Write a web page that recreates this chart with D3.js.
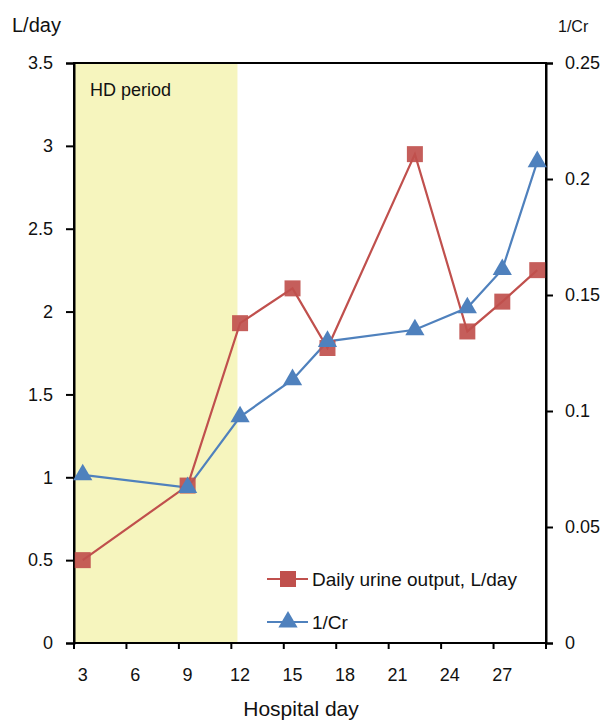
<!DOCTYPE html>
<html>
<head>
<meta charset="utf-8">
<script src="https://cdn.jsdelivr.net/npm/d3@7"></script>
<style>
  body { margin: 0; background: #fff; }
  text { font-family: "Liberation Sans", Arial, sans-serif; fill: #111; }
</style>
</head>
<body>
<svg width="605" height="725"></svg>
<script>
// data
var days = [3, 9, 12, 15, 17, 22, 25, 27, 29];
var urine = [0.50, 0.95, 1.93, 2.14, 1.78, 2.95, 1.88, 2.06, 2.25];
var invCr = [0.0725, 0.067, 0.0975, 0.1135, 0.130, 0.135, 0.1445, 0.161, 0.2075];
var xTickLabels = [3, 6, 9, 12, 15, 18, 21, 24, 27];
var leftTicks = [0, 0.5, 1, 1.5, 2, 2.5, 3, 3.5];
var rightTicks = [0, 0.05, 0.1, 0.15, 0.2, 0.25];
var hdPeriod = [2.5, 11.85];

var svg = d3.select("svg");
var margin = { top: 63, right: 59, bottom: 82, left: 74 };
var width = +svg.attr("width") - margin.left - margin.right;
var height = +svg.attr("height") - margin.top - margin.bottom;

var red = "#c0504d", blue = "#4f81bd";

var x = d3.scaleLinear().domain([2.5, 29.5]).range([0, width]);
var yL = d3.scaleLinear().domain([0, 3.5]).range([height, 0]);
var yR = d3.scaleLinear().domain([0, 0.25]).range([height, 0]);

var g = svg.append("g")
    .attr("transform", "translate(" + margin.left + "," + margin.top + ")");

// HD period band
g.append("rect")
    .attr("x", x(hdPeriod[0]))
    .attr("y", 0)
    .attr("width", x(hdPeriod[1]) - x(hdPeriod[0]))
    .attr("height", height)
    .attr("fill", "#f6f5be");

g.append("text")
    .attr("x", 16)
    .attr("y", 33)
    .style("font-size", "18px")
    .text("HD period");

// frame
g.append("rect")
    .attr("width", width)
    .attr("height", height)
    .attr("fill", "none")
    .attr("stroke", "#000")
    .attr("stroke-width", 2);

// left axis
var yAxisL = d3.axisLeft(yL).tickValues(leftTicks).tickSize(8).tickPadding(13)
    .tickFormat(function(d) { return d; });
var gl = g.append("g").call(yAxisL);

// right axis
var yAxisR = d3.axisRight(yR).tickValues(rightTicks).tickSize(7).tickPadding(12)
    .tickFormat(function(d) { return d; });
var gr = g.append("g").attr("transform", "translate(" + width + ",0)").call(yAxisR);

// bottom axis: ticks at 3-day boundaries, labels offset
var boundaries = d3.range(0, 10).map(function(i) { return 2.5 + i * 3; });
var gb = g.append("g").attr("transform", "translate(0," + height + ")");
gb.selectAll("line.tk")
    .data(boundaries).enter().append("line")
    .attr("class", "tk")
    .attr("x1", function(d) { return x(d); })
    .attr("x2", function(d) { return x(d); })
    .attr("y1", 0)
    .attr("y2", 6)
    .attr("stroke", "#000")
    .attr("stroke-width", 2);
gb.selectAll("text.lb")
    .data(xTickLabels).enter().append("text")
    .attr("class", "lb")
    .attr("x", function(d) { return x(d); })
    .attr("y", 38)
    .attr("text-anchor", "middle")
    .style("font-size", "18px")
    .text(function(d) { return d; });

[gl, gr].forEach(function(a) {
  a.select(".domain").attr("stroke-width", 2);
  a.selectAll(".tick line").attr("stroke-width", 2);
  a.selectAll(".tick text").style("font-size", "18px")
      .style("font-family", "'Liberation Sans', Arial, sans-serif").attr("fill", "#111");
});

// axis titles
svg.append("text").attr("x", 12).attr("y", 32).style("font-size", "20px").text("L/day");
svg.append("text").attr("x", 558).attr("y", 32).style("font-size", "16px").text("1/Cr");
svg.append("text").attr("x", 301).attr("y", 716)
    .attr("text-anchor", "middle").style("font-size", "21px").text("Hospital day");

// series
var urineData = days.map(function(d, i) { return { day: d, v: urine[i] }; });
var crData = days.map(function(d, i) { return { day: d, v: invCr[i] }; });

var lineL = d3.line().x(function(d) { return x(d.day); }).y(function(d) { return yL(d.v); });
var lineR = d3.line().x(function(d) { return x(d.day); }).y(function(d) { return yR(d.v); });

g.append("path").datum(urineData)
    .attr("d", lineL).attr("fill", "none").attr("stroke", red).attr("stroke-width", 2.2);
g.append("path").datum(crData)
    .attr("d", lineR).attr("fill", "none").attr("stroke", blue).attr("stroke-width", 2.2);

var sq = d3.symbol().type(d3.symbolSquare).size(256);
var tri = d3.symbol().type(d3.symbolTriangle).size(160);

g.selectAll(".sq").data(urineData).enter().append("path")
    .attr("class", "sq")
    .attr("d", sq)
    .attr("transform", function(d) { return "translate(" + x(d.day) + "," + yL(d.v) + ")"; })
    .attr("fill", red)
    .attr("opacity", 0.92);

g.selectAll(".tri").data(crData).enter().append("path")
    .attr("class", "tri")
    .attr("d", tri)
    .attr("transform", function(d) { return "translate(" + x(d.day) + "," + yR(d.v) + ")"; })
    .attr("fill", blue);

// legend
var legend = svg.append("g");
var items = [
  { label: "Daily urine output, L/day", color: red, sym: sq, y: 579 },
  { label: "1/Cr", color: blue, sym: tri, y: 622 }
];
items.forEach(function(it) {
  legend.append("line")
      .attr("x1", 267).attr("x2", 308).attr("y1", it.y).attr("y2", it.y)
      .attr("stroke", it.color).attr("stroke-width", 2.2);
  legend.append("path")
      .attr("d", it.sym)
      .attr("transform", "translate(288," + it.y + ")")
      .attr("fill", it.color);
  legend.append("text")
      .attr("x", 312).attr("y", it.y + 7)
      .style("font-size", "19px")
      .text(it.label);
});
</script>
</body>
</html>
